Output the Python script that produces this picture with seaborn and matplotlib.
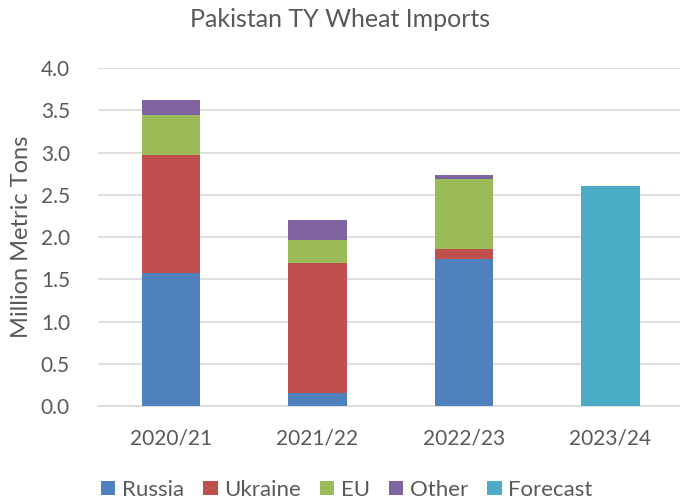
import pandas as pd
import matplotlib.pyplot as plt
import seaborn as sns
from matplotlib.patches import Patch

# marketing years and import origins (million metric tons)
years = ["2020/21", "2021/22", "2022/23", "2023/24"]
russia = [1.57, 0.16, 1.74, 0.0]
ukraine = [1.40, 1.53, 0.12, 0.0]
eu = [0.47, 0.28, 0.83, 0.0]
other = [0.18, 0.23, 0.04, 0.0]
forecast = [0.0, 0.0, 0.0, 2.60]

series = ["Russia", "Ukraine", "EU", "Other", "Forecast"]
colors = ["#4F81BD", "#C0504D", "#9BBB59", "#8064A2", "#4BACC6"]
txt = "#595959"

sns.set_theme(style="white")
plt.rcParams["font.family"] = ["Lato", "DejaVu Sans"]

df = pd.DataFrame(
    {"year": years, "Russia": russia, "Ukraine": ukraine, "EU": eu,
     "Other": other, "Forecast": forecast}
)
# cumulative tops for stacking
stack = df[["Russia", "Ukraine", "EU", "Other"]].cumsum(axis=1)

fig = plt.figure(figsize=(6.8, 5.04), dpi=100)
ax = fig.add_axes([0.1437, 0.1944, 0.8563, 0.6706])

# draw from the top layer down so each lower layer covers the one above
for name, col in zip(["Other", "EU", "Ukraine", "Russia"], colors[3::-1]):
    sns.barplot(x=df["year"], y=stack[name], color=col, width=0.4,
                linewidth=0, saturation=1, ax=ax, zorder=3)
sns.barplot(x=df["year"], y=df["Forecast"], color=colors[4], width=0.4,
            linewidth=0, saturation=1, ax=ax, zorder=3)

ax.set_xlim(-0.5, 3.474)
ax.set_ylim(0, 4.0)
ax.set_yticks([i * 0.5 for i in range(9)])
ax.set_yticklabels([f"{i * 0.5:.1f}" for i in range(9)])
ax.yaxis.grid(True, color="#D9D9D9", linewidth=1.2, zorder=0)
ax.set_axisbelow(True)
for s in ["top", "right", "left"]:
    ax.spines[s].set_visible(False)
ax.spines["bottom"].set_color("#D9D9D9")
ax.spines["bottom"].set_linewidth(1.2)
ax.tick_params(axis="both", length=0, labelsize=15, labelcolor=txt)
ax.tick_params(axis="x", pad=16)
ax.tick_params(axis="y", pad=20)
ax.set_xlabel("")
ax.set_ylabel("Million Metric Tons", fontsize=17, color=txt, labelpad=6)

fig.text(0.5, 0.962, "Pakistan TY Wheat Imports", ha="center", va="center",
         fontsize=18, color=txt)

handles = [Patch(facecolor=c, edgecolor="none", label=n) for n, c in zip(series, colors)]
fig.legend(handles=handles, loc="center", bbox_to_anchor=(0.51, 0.028), ncol=5,
           frameon=False, fontsize=16, labelcolor=txt, handlelength=0.65,
           handleheight=0.65, handletextpad=0.3, columnspacing=0.85)

fig.savefig("out.png", dpi=100, facecolor="w")
